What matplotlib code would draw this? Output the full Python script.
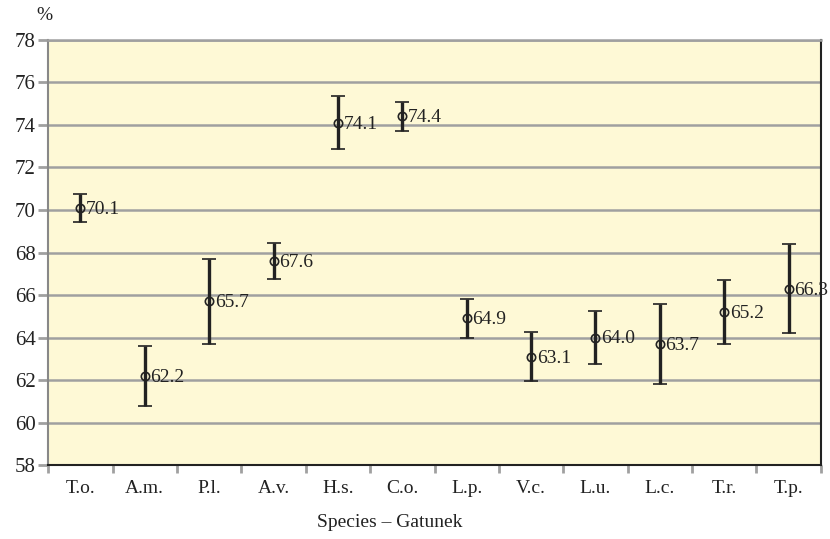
import matplotlib.pyplot as plt
import numpy as np

species = ['T.o.', 'A.m.', 'P.l.', 'A.v.', 'H.s.', 'C.o.', 'L.p.', 'V.c.', 'L.u.', 'L.c.', 'T.r.', 'T.p.']
means = [70.1, 62.2, 65.7, 67.6, 74.1, 74.4, 64.9, 63.1, 64.0, 63.7, 65.2, 66.3]
errors = [0.65, 1.4, 2.0, 0.85, 1.25, 0.7, 0.93, 1.14, 1.25, 1.87, 1.5, 2.08]
yticks = [58, 60, 62, 64, 66, 68, 70, 72, 74, 76, 78]

plt.rcParams['font.family'] = ['Liberation Serif', 'DejaVu Serif']

fig = plt.figure(figsize=(8.3, 5.39), dpi=100)
ax = fig.add_axes([0.058, 0.137, 0.931, 0.789])
ax.set_facecolor('#fef9d6')

x = np.arange(len(species))
ax.errorbar(x, means, yerr=errors, fmt='o', mfc='none', mec='#222222', ms=6, mew=1.2,
            ecolor='#222222', elinewidth=2.4, capsize=5, capthick=1.8, zorder=3)
for xi, m in zip(x, means):
    ax.annotate(f'{m:.1f}', (xi, m), xytext=(4, -1), textcoords='offset points',
                ha='left', va='center', fontsize=14, color='#222222', zorder=4)

ax.set_xlim(-0.5, len(species) - 0.5)
ax.set_ylim(58, 78)
ax.set_yticks(yticks)
ax.yaxis.grid(True, color='#a0a0a0', lw=1.8)
ax.set_axisbelow(True)
ax.set_xticks(x)
ax.set_xticklabels(species)
ax.set_xticks(np.arange(-0.5, len(species)), minor=True)
ax.tick_params(axis='x', which='major', length=0, pad=11, labelsize=14, colors='#222222')
ax.tick_params(axis='x', which='minor', length=6, width=2, color='#a0a0a0')
ax.tick_params(axis='y', length=7, width=2, color='#a0a0a0', labelsize=15, labelcolor='#222222', pad=2)

ax.spines['top'].set_color('#a0a0a0')
ax.spines['top'].set_linewidth(1.8)
ax.spines['left'].set_color('#888888')
ax.spines['left'].set_linewidth(1.5)
ax.spines['bottom'].set_color('#222222')
ax.spines['bottom'].set_linewidth(1.5)
ax.spines['right'].set_color('#222222')
ax.spines['right'].set_linewidth(1.5)

fig.text(0.054, 0.972, '%', fontsize=14, ha='center', va='center', color='#222222')
fig.text(0.47, 0.031, 'Species \u2013 Gatunek', fontsize=14, ha='center', va='center', color='#222222')

fig.savefig('out.png', dpi=100)
